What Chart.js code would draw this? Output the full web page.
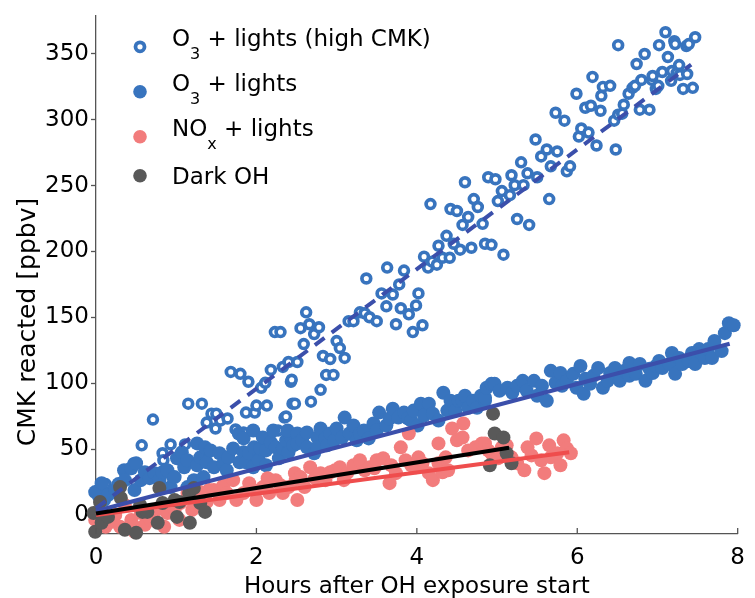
<!DOCTYPE html>
<html>
<head>
<meta charset="utf-8">
<script src="https://cdn.jsdelivr.net/npm/chart.js@4.4.0/dist/chart.umd.min.js"></script>
<style>
  html, body { margin: 0; padding: 0; background: #fff; }
  #wrap { width: 755px; height: 598px; }
</style>
</head>
<body>
<div id="wrap"><canvas id="cmkChart"></canvas></div>
<script>
// values: hours after OH exposure start vs CMK reacted (ppbv)
const highCmkHours = [
  0.03,0.05,0.12,0.47,0.57,0.71,0.83,0.84,0.93,0.95,
  1.11,1.15,1.32,1.38,1.44,1.50,1.55,1.49,1.64,1.74,
  1.84,1.87,1.98,2.00,2.13,2.27,2.35,2.45,2.06,1.90,
  2.11,2.43,1.68,1.80,2.18,2.23,2.30,2.33,2.40,2.44,
  2.48,2.51,2.37,2.55,2.62,2.66,2.59,2.72,2.78,2.83,
  2.92,3.00,3.04,3.10,2.87,2.96,2.80,2.68,3.15,3.21,
  3.29,3.35,3.41,3.50,3.37,3.63,3.56,3.70,3.62,3.74,
  3.78,3.80,3.84,3.90,3.99,4.02,4.07,3.95,4.09,4.14,
  4.19,4.25,4.17,4.27,4.32,4.37,4.41,4.42,4.46,4.50,
  4.54,4.57,4.60,4.64,4.68,4.71,4.76,4.82,4.85,4.89,
  4.93,4.98,5.01,5.06,5.08,5.16,5.18,5.22,5.25,5.30,
  5.33,5.38,5.40,5.48,5.50,5.55,5.62,5.65,5.67,5.73,
  5.75,5.84,5.87,5.91,5.99,6.02,6.05,6.10,6.14,6.17,
  6.19,6.24,6.29,6.30,6.32,6.41,6.46,6.48,6.51,6.51,
  6.56,6.58,6.64,6.69,6.72,6.74,6.78,6.80,6.84,6.90,
  6.93,6.94,6.98,7.01,7.02,7.06,7.10,7.13,7.17,7.18,
  7.21,7.22,7.24,7.27,7.28,7.32,7.36,7.37,7.39,7.44,
  7.47
];
const highCmkPpbv = [
  13.6,20.4,23.4,39.2,52.8,72.4,46.8,41.5,53.5,28.7,
  53.5,84.5,84.5,70.1,76.9,76.9,71.6,65.6,73.2,64.9,
  62.6,77.7,77.7,83.0,83.0,64.1,73.9,84.5,96.5,101.1,
  100.3,101.1,108.6,107.1,110.1,138.8,138.8,112.4,116.1,102.6,
  84.5,116.1,74.7,141.8,153.8,144.8,129.7,137.3,142.5,120.7,
  118.4,132.0,126.7,119.2,106.3,106.3,95.0,86.0,147.1,147.1,
  153.8,153.1,150.1,147.1,179.5,187.8,168.2,167.4,158.4,144.8,
  175.0,156.9,185.5,152.3,159.1,168.2,144.0,138.8,196.1,187.8,
  192.3,190.0,236.0,204.4,195.3,211.9,195.3,232.3,205.9,230.8,
  201.4,220.2,252.6,226.2,202.9,239.8,233.8,221.0,205.9,256.4,
  205.1,254.9,238.3,245.9,197.6,242.8,257.9,250.4,224.7,267.7,
  250.4,259.4,220.2,285.1,256.4,272.2,277.5,239.8,264.7,305.4,
  276.0,299.4,260.9,264.7,319.8,287.3,293.4,309.2,290.3,310.7,
  332.6,280.5,306.9,318.3,325.0,325.8,299.4,277.5,356.7,303.9,
  304.7,311.5,319.8,324.3,325.8,342.4,307.7,330.3,350.0,307.7,
  330.3,333.3,323.5,325.8,356.7,336.3,366.5,347.7,329.6,337.1,
  359.7,357.5,335.6,341.6,334.1,323.5,356.0,334.8,357.5,324.3,
  362.7
];

const o3Hours = [
  -0.01,0.07,0.10,0.15,0.24,0.28,0.35,0.36,0.44,0.48,
  0.50,0.56,0.61,0.67,0.73,0.79,0.83,0.89,0.93,0.98,
  1.01,1.07,1.10,1.14,1.14,1.22,1.26,1.26,1.30,1.34,
  1.36,1.38,1.43,1.47,1.54,1.59,1.63,1.65,1.71,1.78,
  1.79,1.84,1.84,1.87,1.91,1.96,1.96,1.97,2.03,2.05,
  2.08,2.12,2.12,2.18,2.21,2.24,2.28,2.33,2.37,2.40,
  2.42,2.46,2.39,2.51,2.51,2.57,2.63,2.63,2.72,2.76,
  2.76,2.80,2.86,2.88,2.92,2.97,3.00,3.07,3.10,3.16,
  3.21,3.25,3.29,3.34,3.40,3.46,3.50,3.53,3.62,3.66,
  3.70,3.77,3.84,3.89,3.93,3.96,4.01,4.05,4.09,4.15,
  4.20,4.27,4.33,4.38,4.42,4.48,4.52,4.57,4.60,4.64,
  4.70,4.75,4.80,4.85,4.85,4.87,4.93,4.97,5.03,5.13,
  5.19,5.25,5.32,5.37,5.46,5.50,5.56,5.62,5.67,5.73,
  5.79,5.81,5.87,5.95,5.99,6.04,6.08,6.10,6.16,6.20,
  6.26,6.32,6.38,6.41,6.47,6.53,6.59,6.65,6.65,6.73,
  6.78,6.85,6.90,6.94,6.98,7.02,7.06,7.15,7.18,7.22,
  7.27,7.31,7.39,7.43,7.47,7.52,7.55,7.59,7.63,7.68,
  7.71,7.80,7.84,7.89,7.95
];
const o3Ppbv = [
  17.3,24.1,11.3,15.1,18.9,23.4,33.9,26.4,35.4,18.9,
  39.2,26.4,32.4,27.9,31.7,26.4,32.4,33.9,21.1,28.7,
  43.0,47.5,36.2,41.5,21.1,26.4,54.3,37.7,43.7,28.7,
  51.3,40.0,49.0,36.2,46.8,39.2,33.9,43.7,50.5,61.8,
  40.0,58.1,47.5,40.0,46.8,64.1,36.2,51.3,41.5,50.5,
  58.8,49.0,37.7,55.1,64.1,51.3,43.0,50.5,56.6,47.5,
  60.3,52.8,64.1,61.8,54.3,56.6,62.6,51.3,46.8,58.8,
  51.3,65.6,58.1,52.8,61.8,56.6,65.6,58.8,73.9,61.8,
  67.9,56.6,61.8,64.1,58.1,69.4,64.1,77.7,67.9,73.2,
  80.7,73.9,77.7,73.2,71.6,79.2,67.9,84.5,75.4,84.5,
  76.9,71.6,92.8,79.2,86.7,79.2,86.7,86.7,90.5,81.4,
  86.7,81.4,90.5,86.7,89.0,96.5,99.5,99.5,94.3,96.5,
  92.8,98.0,101.8,94.3,101.8,90.5,98.0,86.7,109.4,100.3,
  107.8,98.0,101.8,107.1,96.5,113.1,92.0,103.3,99.5,105.6,
  111.6,96.5,101.8,107.8,111.6,101.8,109.4,115.4,105.6,107.1,
  114.6,101.8,110.9,107.8,113.1,116.9,111.6,114.6,122.9,107.1,
  119.2,114.6,116.9,122.9,114.6,125.9,122.9,119.2,125.9,119.2,
  132.0,124.4,138.0,145.6,144.0
];

const noxHours = [
  -0.01,0.03,0.12,0.19,0.24,0.30,0.36,0.44,0.48,0.48,
  0.56,0.61,0.68,0.73,0.80,0.85,0.89,0.98,1.04,1.05,
  1.14,1.20,1.22,1.30,1.38,1.41,1.47,1.54,1.59,1.63,
  1.71,1.75,1.84,1.91,1.96,2.00,2.08,2.14,2.16,2.24,
  2.30,2.33,2.40,2.48,2.49,2.51,2.55,2.60,2.67,2.73,
  2.80,2.86,2.92,2.98,3.04,3.09,3.13,3.21,3.29,3.35,
  3.41,3.47,3.50,3.58,3.66,3.68,3.74,3.80,3.86,3.90,
  3.93,3.99,4.02,4.07,4.15,4.20,4.27,4.27,4.32,4.36,
  4.39,4.44,4.50,4.57,4.58,4.64,4.73,4.81,4.85,4.89,
  4.93,5.01,5.06,5.12,5.18,5.25,5.34,5.38,5.43,5.49,
  5.55,5.59,5.65,5.67,5.75,5.79,5.83,5.87,5.92
];
const noxPpbv = [
  -3.8,2.3,-9.0,-5.3,0.0,-9.0,7.5,-3.8,-9.0,-12.8,
  1.5,-7.5,-3.8,2.3,6.0,-9.0,1.5,3.8,-3.8,9.0,
  16.6,3.8,11.3,17.3,9.8,18.9,18.9,11.3,22.6,16.6,
  26.4,11.3,16.6,24.1,18.9,11.3,21.1,27.9,16.6,26.4,
  22.6,16.6,21.1,31.7,26.4,11.3,28.7,21.1,36.2,27.9,
  31.7,26.4,32.4,33.9,36.2,26.4,31.7,37.7,41.5,33.9,
  36.2,35.4,41.5,43.0,24.1,37.7,31.7,51.3,41.5,61.8,
  37.7,36.2,43.7,39.2,31.7,26.4,39.2,54.3,32.4,43.7,
  33.9,65.6,56.6,58.8,69.4,49.0,51.3,54.3,54.3,49.0,
  46.8,43.0,51.3,52.8,43.7,39.2,33.9,51.3,45.2,58.1,
  41.5,31.7,52.8,43.7,46.8,37.7,56.6,50.5,46.8
];

const darkHours = [
  -0.03,-0.01,0.05,0.07,0.15,0.30,0.31,0.36,0.50,0.55,
  0.58,0.64,0.77,0.79,0.83,0.98,1.01,1.04,1.17,1.16,
  1.22,1.30,1.36,4.91,4.95,4.97,5.08,5.12,5.18
];
const darkPpbv = [
  1.5,-12.8,9.8,-6.0,-1.5,21.1,12.8,-11.3,-13.6,7.5,
  2.3,2.3,-6.0,20.4,9.0,11.3,-1.5,9.8,-6.0,16.6,
  20.4,9.0,2.3,37.7,76.9,61.8,58.8,46.8,39.2
];

// linear fits, end points
const highCmkFitHours = [0, 7.42];
const highCmkFitPpbv = [5, 342];
const o3FitHours = [0, 7.9];
const o3FitPpbv = [3, 130];
const noxFitHours = [0, 5.9];
const noxFitPpbv = [0, 47.5];
const darkFitHours = [0, 5.15];
const darkFitPpbv = [1, 51];

const xTicks = [0, 2, 4, 6, 8];
const yTicks = [0, 50, 100, 150, 200, 250, 300, 350];
const seriesLabels = ['O_3 + lights (high CMK)', 'O_3 + lights', 'NO_x + lights', 'Dark OH'];
const yTitle = 'CMK reacted [ppbv]';

const FONT = '"DejaVu Sans", sans-serif';
const BLUE = '#3874be';
const PINK = '#f27c7c';
const GREY = '#595959';
const AXIS = '#555555';

function pts(xs, ys) {
  return xs.map((x, i) => ({ x: x, y: ys[i] }));
}

// draws text where "_c" means c is a subscript
function drawRich(ctx, text, x, y) {
  const parts = text.split('_');
  ctx.font = '23px ' + FONT;
  ctx.fillText(parts[0], x, y);
  x += ctx.measureText(parts[0]).width;
  for (let i = 1; i < parts.length; i++) {
    const sub = parts[i][0], rest = parts[i].slice(1);
    ctx.font = '16px ' + FONT;
    ctx.fillText(sub, x, y + 13);
    x += ctx.measureText(sub).width;
    ctx.font = '23px ' + FONT;
    ctx.fillText(rest, x, y);
    x += ctx.measureText(rest).width;
  }
}

const extras = {
  id: 'extras',
  afterDraw(chart) {
    const ctx = chart.ctx, area = chart.chartArea, xs = chart.scales.x;
    ctx.save();
    // x ticks point into the plot
    ctx.strokeStyle = AXIS;
    ctx.lineWidth = 1.3;
    xTicks.forEach(v => {
      const px = xs.getPixelForValue(v);
      ctx.beginPath();
      ctx.moveTo(px, area.bottom);
      ctx.lineTo(px, area.bottom - 6);
      ctx.stroke();
    });

    // y title sits a bit below the middle of the axis in the original
    ctx.save();
    ctx.translate(28, 322);
    ctx.rotate(-Math.PI / 2);
    ctx.font = '25px ' + FONT;
    ctx.fillStyle = '#000';
    ctx.textAlign = 'center';
    ctx.textBaseline = 'middle';
    ctx.fillText(yTitle, 0, 0);
    ctx.restore();

    // legend
    const markers = [
      { open: true, color: BLUE },
      { open: false, color: BLUE },
      { open: false, color: PINK },
      { open: false, color: GREY }
    ];
    const rowY = [31, 76, 121, 160];
    ctx.textAlign = 'left';
    ctx.textBaseline = 'alphabetic';
    seriesLabels.forEach((label, i) => {
      const my = area.top + rowY[i], mx = area.left + 44;
      const m = markers[i];
      ctx.beginPath();
      if (m.open) {
        ctx.arc(mx, my, 4.5, 0, Math.PI * 2);
        ctx.fillStyle = '#fff';
        ctx.fill();
        ctx.lineWidth = 3.8;
        ctx.strokeStyle = m.color;
        ctx.stroke();
      } else {
        ctx.arc(mx, my, 6.8, 0, Math.PI * 2);
        ctx.fillStyle = m.color;
        ctx.fill();
      }
      ctx.fillStyle = '#000';
      const base = label.indexOf('_') >= 0 ? my - 1 : my + 8.5;
      drawRich(ctx, label, area.left + 76, base);
    });
    ctx.restore();
  }
};

const openStyle = { pointRadius: 4.4, borderWidth: 3.7, backgroundColor: '#fff', borderColor: BLUE };
const dotStyle = { pointRadius: 7, borderWidth: 0 };
const fitStyle = { showLine: true, pointRadius: 0, borderWidth: 4, fill: false };

new Chart(document.getElementById('cmkChart'), {
  type: 'scatter',
  data: {
    datasets: [
      { label: 'Dark OH fit', data: pts(darkFitHours, darkFitPpbv), borderColor: '#000', order: 0, ...fitStyle },
      { label: 'NOx fit', data: pts(noxFitHours, noxFitPpbv), borderColor: '#ef4d4d', order: 1, ...fitStyle },
      { label: 'O3 fit', data: pts(o3FitHours, o3FitPpbv), borderColor: '#3b4fab', order: 2, ...fitStyle },
      { label: 'O3 high CMK fit', data: pts(highCmkFitHours, highCmkFitPpbv), borderColor: '#3b4fab', borderDash: [12, 9], order: 3, ...fitStyle },
      { label: seriesLabels[3], data: pts(darkHours, darkPpbv), backgroundColor: GREY, order: 4, ...dotStyle },
      { label: seriesLabels[2], data: pts(noxHours, noxPpbv), backgroundColor: PINK, order: 5, ...dotStyle },
      { label: seriesLabels[1], data: pts(o3Hours, o3Ppbv), backgroundColor: BLUE, order: 6, ...dotStyle },
      { label: seriesLabels[0], data: pts(highCmkHours, highCmkPpbv), order: 7, ...openStyle }
    ].map(d => ({ ...d, clip: false }))
  },
  options: {
    responsive: true,
    maintainAspectRatio: false,
    animation: false,
    events: [],
    layout: { padding: { top: 12, right: 8, left: 0, bottom: 0 } },
    plugins: { legend: { display: false }, tooltip: { enabled: false } },
    scales: {
      x: {
        type: 'linear',
        min: 0,
        max: 8,
        afterBuildTicks: s => { s.ticks = xTicks.map(v => ({ value: v })); },
        afterFit: s => { s.height = 64; },
        grid: { drawOnChartArea: false, drawTicks: false },
        border: { color: AXIS, width: 1.3 },
        ticks: { color: '#000', padding: 10, font: { family: FONT, size: 23 } },
        title: { display: true, text: 'Hours after OH exposure start', color: '#000', padding: { top: 0, bottom: -3 }, font: { family: FONT, size: 23 } }
      },
      y: {
        type: 'linear',
        min: -14.5,
        max: 379,
        afterBuildTicks: s => { s.ticks = yTicks.map(v => ({ value: v })); },
        afterFit: s => { s.width = 96; },
        grid: { drawOnChartArea: false, drawTicks: true, tickLength: 5, color: AXIS, tickWidth: 1.3 },
        border: { color: AXIS, width: 1.3 },
        ticks: { color: '#000', padding: 2, font: { family: FONT, size: 23 } }
      }
    }
  },
  plugins: [extras]
});
</script>
</body>
</html>
